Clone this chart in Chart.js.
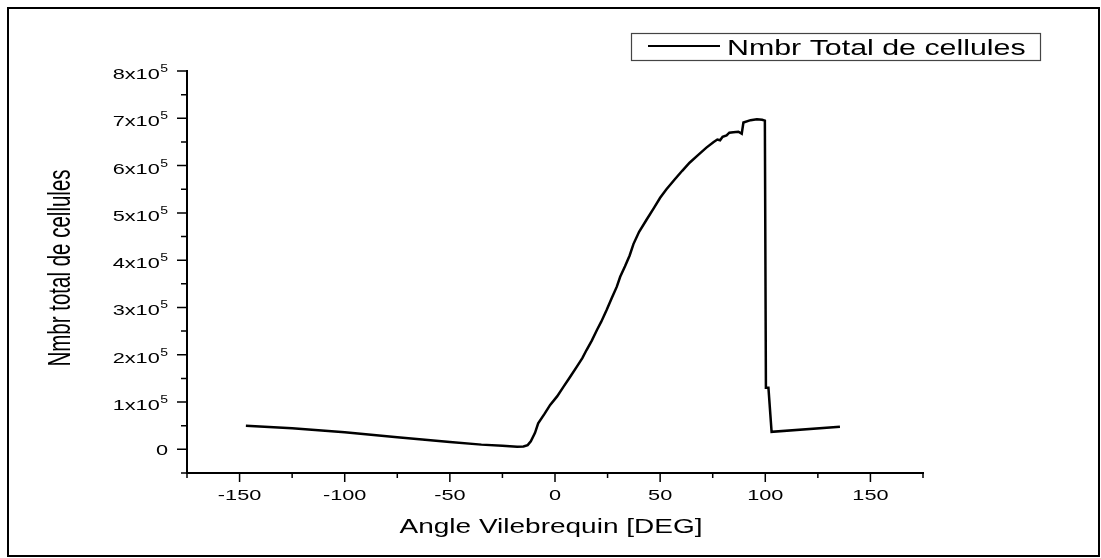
<!DOCTYPE html>
<html>
<head>
<meta charset="utf-8">
<title>Nmbr total de cellules</title>
<script src="https://cdn.jsdelivr.net/npm/chart.js@4/dist/chart.umd.min.js"></script>
<style>
  html, body { margin: 0; padding: 0; background: #fff; }
  canvas { display: block; }
</style>
</head>
<body>
<canvas id="cellsChart" width="1101" height="558"></canvas>
<script>
// crank angle (deg) and total number of cells
const angles = [-147, -125, -100, -75, -50, -35, -25, -18, -15, -13, -11.5, -9.5, -8, -5, -2.3,
  1, 4, 7, 10.4, 13, 15, 17.5, 20, 22, 24.6, 27, 29.4, 31, 33.3, 35.5, 37.3, 40, 43.6, 47, 50,
  53, 57, 60.5, 64, 68, 72, 75.3, 77.2, 78.5, 79.7, 81.6, 82.9, 84.8, 87.2, 88.8, 89.6, 93, 96, 98.5, 99.8,
  100.3, 101.5, 103, 135.5];
const cells = [50000, 44500, 36000, 25500, 15500, 10000, 7500, 5500, 6000, 9000, 17000, 35000, 55000, 75000, 94000,
  112000, 132000, 152000, 175000, 193000, 210000, 230000, 253000, 270000, 295000, 320000, 344000, 365000, 387000, 410000, 434000, 460000, 486000, 510000, 532000,
  550000, 571000, 589000, 606000, 622000, 638000, 649500, 655000, 653500, 661000, 664000, 669500, 670500, 671500, 667500, 691000, 696000, 698000, 697000, 695000,
  130000, 130000, 37000, 48000];

// axis ticks
const xTicks = [-150, -100, -50, 0, 50, 100, 150];
const xMinor = [-175, -125, -75, -25, 25, 75, 125, 175];
const yTicks = [0, 1, 2, 3, 4, 5, 6, 7, 8];          // x10^5
const yMinor = [-0.5, 0.5, 1.5, 2.5, 3.5, 4.5, 5.5, 6.5, 7.5];

const FONT = '"Liberation Sans", Arial, Helvetica, sans-serif';
const SX = 1.4; // the original figure is stretched sideways

function text(ctx, str, x, y, size, align, sx) {
  ctx.save();
  ctx.translate(x, y);
  ctx.scale(sx || SX, 1);
  ctx.font = size + 'px ' + FONT;
  ctx.textAlign = align;
  ctx.textBaseline = 'alphabetic';
  ctx.fillStyle = '#000';
  ctx.fillText(str, 0, 0);
  ctx.restore();
}

const decorations = {
  id: 'decorations',
  afterDraw(chart) {
    const ctx = chart.ctx;
    const xs = chart.scales.x, ys = chart.scales.y;
    const ca = chart.chartArea;

    // outer frame
    ctx.save();
    ctx.strokeStyle = '#000';
    ctx.lineWidth = 2;
    ctx.strokeRect(8, 8, 1091, 548);

    // tick marks
    ctx.lineWidth = 1.5;
    ctx.beginPath();
    xTicks.forEach(v => { const p = xs.getPixelForValue(v); ctx.moveTo(p, ca.bottom); ctx.lineTo(p, ca.bottom + 9); });
    xMinor.forEach(v => { const p = xs.getPixelForValue(v); ctx.moveTo(p, ca.bottom); ctx.lineTo(p, ca.bottom + 5); });
    yTicks.forEach(v => { const p = ys.getPixelForValue(v * 1e5); ctx.moveTo(ca.left, p); ctx.lineTo(ca.left - 10, p); });
    yMinor.forEach(v => { const p = ys.getPixelForValue(v * 1e5); ctx.moveTo(ca.left, p); ctx.lineTo(ca.left - 6, p); });
    ctx.stroke();
    ctx.restore();

    // tick labels
    xTicks.forEach(v => text(ctx, String(v), xs.getPixelForValue(v), ca.bottom + 27, 15.5, 'center'));
    yTicks.forEach(v => {
      const p = ys.getPixelForValue(v * 1e5);
      const right = ca.left - 19;
      if (v === 0) {
        text(ctx, '0', right, p + 6, 15.5, 'right');
        return;
      }
      ctx.font = '10px ' + FONT;
      const supW = ctx.measureText('5').width * SX;
      text(ctx, '5', right, p + 1, 10, 'right');
      text(ctx, v + 'x10', right - supW - 0.5, p + 8, 15.5, 'right');
    });

    // axis titles
    text(ctx, 'Angle Vilebrequin [DEG]', 551, 533, 20, 'center');
    ctx.save();
    ctx.translate(70, 268);
    ctx.rotate(-Math.PI / 2);
    ctx.scale(1, 1.5);
    ctx.font = '20.5px ' + FONT;
    ctx.textAlign = 'center';
    ctx.textBaseline = 'alphabetic';
    ctx.fillStyle = '#000';
    ctx.fillText('Nmbr total de cellules', 0, 0);
    ctx.restore();

    // legend
    ctx.save();
    ctx.strokeStyle = '#444';
    ctx.lineWidth = 1.2;
    ctx.strokeRect(631.5, 33.5, 409, 27);
    ctx.strokeStyle = '#000';
    ctx.lineWidth = 2;
    ctx.beginPath();
    ctx.moveTo(648, 46);
    ctx.lineTo(720, 46);
    ctx.stroke();
    ctx.restore();
    text(ctx, chart.data.datasets[0].label, 727, 55, 22, 'left', 1.38);
  }
};

new Chart(document.getElementById('cellsChart'), {
  type: 'line',
  data: {
    datasets: [{
      label: 'Nmbr Total de cellules',
      data: angles.map((a, i) => ({ x: a, y: cells[i] })),
      borderColor: '#000',
      borderWidth: 2.5,
      pointRadius: 0,
      tension: 0,
      fill: false
    }]
  },
  options: {
    responsive: false,
    animation: false,
    layout: { padding: { left: 187, right: 178, top: 71, bottom: 85 } },
    plugins: { legend: { display: false }, tooltip: { enabled: false } },
    scales: {
      x: {
        type: 'linear',
        min: -175,
        max: 175,
        ticks: { display: false },
        grid: { display: false, drawTicks: false },
        border: { display: true, color: '#000', width: 2 }
      },
      y: {
        min: -50000,
        max: 800000,
        ticks: { display: false },
        grid: { display: false, drawTicks: false },
        border: { display: true, color: '#000', width: 2 }
      }
    }
  },
  plugins: [decorations]
});
</script>
</body>
</html>
